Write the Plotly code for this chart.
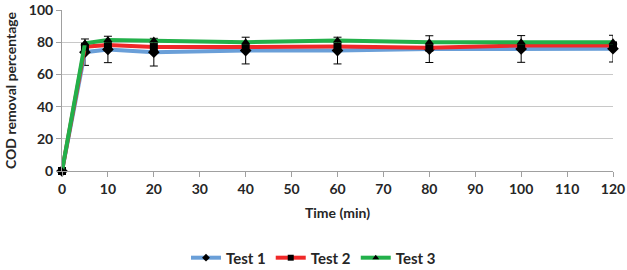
import plotly.graph_objects as go

time_min = [0, 5, 10, 20, 40, 60, 80, 100, 120]
test1 = [0, 73.8, 75.5, 73.8, 74.8, 74.8, 75.7, 75.8, 76.0]
test2 = [0, 77.2, 78.2, 77.0, 77.0, 77.3, 76.6, 78.0, 78.0]
test3 = [0, 79.3, 81.3, 81.0, 80.0, 81.0, 80.0, 80.0, 80.0]
err1 = [0, 8.2, 8.2, 8.6, 8.3, 8.3, 8.3, 8.3, 8.3]
series_names = ["Test 1", "Test 2", "Test 3"]

colors = ["#6A9FD8", "#F02828", "#22B04A"]
symbols = ["diamond", "square", "triangle-up"]
sizes = [9, 8, 8]
values = [test1, test2, test3]

FONT = "Lato"
fig = go.Figure()
for i, (name, vals) in enumerate(zip(series_names, values)):
    kw = {}
    if i == 0:
        kw["error_y"] = dict(type="data", array=err1, visible=True, color="black", thickness=1, width=4)
    fig.add_trace(go.Scatter(
        x=time_min, y=vals, name=name, mode="lines+markers",
        line=dict(color=colors[i], width=4),
        marker=dict(symbol=symbols[i], color="black", size=sizes[i]),
        cliponaxis=False, showlegend=False, **kw,
    ))
# legend entries (smaller markers, as in the reference legend)
for i, name in enumerate(series_names):
    fig.add_trace(go.Scatter(
        x=[None], y=[None], name=name, mode="lines+markers",
        line=dict(color=colors[i], width=4),
        marker=dict(symbol=symbols[i], color="black", size=6),
        showlegend=True,
    ))

fig.update_layout(
    width=627, height=270,
    margin=dict(l=62, r=14, t=10, b=99, autoexpand=False),
    paper_bgcolor="white", plot_bgcolor="white",
    font=dict(family=FONT, size=14, color="#262626"),
    showlegend=True,
    legend=dict(orientation="h", xref="container", x=0.5, xanchor="center",
                y=-0.54, yanchor="middle",
                font=dict(family=FONT, size=15, color="#262626", weight="bold"),
                itemwidth=30, tracegroupgap=0),
    xaxis=dict(
        range=[0, 120], tickmode="array", tickvals=list(range(0, 121, 10)),
        showgrid=False, showline=True, linecolor="#A0A0A0", linewidth=1,
        ticks="outside", ticklen=5, tickcolor="#A0A0A0", zeroline=False,
        automargin=False,
        tickfont=dict(family=FONT, size=14, weight="bold"),
        title=dict(text="Time (min)", font=dict(family=FONT, size=14, weight="bold"), standoff=12),
    ),
    yaxis=dict(
        range=[0, 100], tickmode="array", tickvals=list(range(0, 101, 20)),
        showgrid=True, gridcolor="#C8C8C8", gridwidth=1,
        showline=True, linecolor="#A0A0A0", linewidth=1,
        ticks="outside", ticklen=5, tickcolor="#A0A0A0", zeroline=False,
        automargin=False,
        tickfont=dict(family=FONT, size=14, weight="bold"),
        title=dict(text="COD removal percentage", font=dict(family=FONT, size=14, weight="bold"), standoff=8),
    ),
)

fig.write_html("out.html", config={"displayModeBar": False},
               post_script="document.body.style.margin='0';document.body.style.overflow='hidden';")
